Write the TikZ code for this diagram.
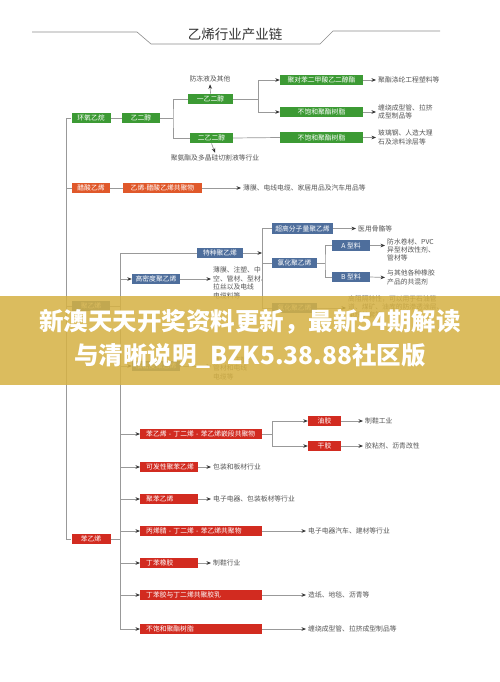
\documentclass[tikz,border=0pt]{standalone}
\usepackage{fontspec}
\newfontfamily\cjk{Noto Sans CJK SC}
\usetikzlibrary{arrows.meta}
\definecolor{cgreen}{HTML}{3C9A34}
\definecolor{corange}{HTML}{E0582A}
\definecolor{cblue}{HTML}{4E6E9C}
\definecolor{cred}{HTML}{D22B20}
\definecolor{ctext}{HTML}{555555}
\definecolor{cline}{HTML}{999999}
\definecolor{cband}{HTML}{D6B244}
\newcommand\labfont{\cjk\fontsize{6.8}{8.4}\selectfont}
\begin{document}
\begin{tikzpicture}[x=1pt,y=-1pt,
  box/.style={inner sep=0pt, minimum height=10.5pt, text=white, font=\labfont},
  gbox/.style={box, fill=cgreen, minimum width=#1},
  obox/.style={box, fill=corange, minimum width=#1},
  bbox/.style={box, fill=cblue, minimum width=#1},
  rbox/.style={box, fill=cred, anchor=west, inner xsep=6pt, text width=#1, align=left},
  txt/.style={font=\labfont, text=ctext, anchor=west, inner sep=2pt, align=left},
  ctxt/.style={font=\labfont, text=ctext, inner sep=2pt},
  ln/.style={draw=cline, line width=0.7pt},
  arr/.style={ln, -{Stealth[length=4.5pt,width=3.6pt,color=black!80]}},
  bandtext/.style={font=\cjk\bfseries\fontsize{24.5}{28}\selectfont, text=white}
]
\useasboundingbox (0,0) rectangle (500,682);
\fill[white] (0,0) rectangle (500,682);

% title
\node[font=\cjk\fontsize{13.5}{15}\selectfont, text=black!80] (title) at (235,34) {乙烯行业产业链};
\draw[draw=black!45, line width=0.6pt] (32,32) -- (137,32) -- (151,44) -- (320,44) -- (333,31) -- (440,31);

% ===== green section
\node[gbox=39pt] (eo) at (91,118) {环氧乙烷};
\node[gbox=38pt] (eg) at (141,118) {乙二醇};
\node[gbox=45pt] (meg) at (210.5,99) {一乙二醇};
\node[gbox=43pt] (deg) at (211.5,138) {二乙二醇};
\node[gbox=83pt] (pet) at (321.5,80) {聚对苯二甲酸乙二醇酯};
\node[gbox=83pt] (upra) at (321.5,112) {不饱和聚酯树脂};
\node[gbox=83pt] (uprb) at (321.5,137.5) {不饱和聚酯树脂};
\node[ctxt] (taf) at (210,79) {防冻液及其他};
\node[ctxt] (tpu) at (215,158) {聚氨酯及多晶硅切割液等行业};
\node[txt] (tpet) at (376,80) {聚酯涤纶工程塑料等};
\node[txt] (tupra) at (376,112) {缠绕成型管、拉挤\\成型制品等};
\node[txt] (tuprb) at (376,137.5) {玻璃钢、人造大理\\石及涂料涂层等};
\coordinate (gb1) at (173,118);
\coordinate (gb2) at (258,99);
\draw[ln] (eo) -- (eg);
\draw[ln] (eg.east) -- (gb1);
\draw[ln] (meg.west) -| (gb1) |- (deg.west);
\draw[arr] (meg.north) -- (taf.south);
\draw[arr] (deg.south) -- (tpu.north);
\draw[ln] (meg.east) -- (gb2);
\draw[arr] (gb2) |- (pet.west);
\draw[arr] (gb2) |- (upra.west);
\draw[ln] (deg.east) -- (uprb.west);
\draw[arr] (pet.east) -- (tpet.west);
\draw[arr] (upra.east) -- (tupra.west);
\draw[arr] (uprb.east) -- (tuprb.west);

% ===== orange section
\node[obox=38pt] (va) at (91,188) {醋酸乙烯};
\node[obox=79pt] (eva) at (162.5,188) {乙烯-醋酸乙烯共聚物};
\node[txt] (teva) at (241,188) {薄膜、电线电缆、家居用品及汽车用品等};
\draw[ln] (va) -- (eva);
\draw[arr] (eva.east) -- (teva.west);

% ===== blue section
\node[bbox=38pt] (pe) at (91,306) {聚乙烯};
\node[bbox=46pt] (spe) at (220,253) {特种聚乙烯};
\node[bbox=48pt] (hdpe) at (156,279) {高密度聚乙烯};
\node[bbox=48pt] (lpe) at (156,366) {低密度聚乙烯};
\node[bbox=61pt] (uhmw) at (302.5,228.5) {超高分子量聚乙烯};
\node[bbox=45pt] (cpe) at (294.5,263) {氯化聚乙烯};
\node[bbox=38pt] (pa) at (351,245.5) {A 型料};
\node[bbox=38pt] (pb) at (351,277) {B 型料};
\node[bbox=45pt] (csm) at (294.5,308) {氯化聚乙烯};
\node[txt] (thdpe) at (211,283) {薄膜、注塑、中\\空、管材、型材、\\拉丝以及电线\\电缆料等};
\node[txt] (tlpe) at (211,368) {薄膜、注塑、\\管材和电线\\电缆等};
\node[txt] (tuhmw) at (356,228.5) {医用骨骼等};
\node[txt] (tpa) at (385,250) {防水卷材、PVC\\异型材改性剂、\\管材等};
\node[txt] (tpb) at (385,277.5) {与其他各种橡胶\\产品的共混剂};
\node[txt] (tcsm) at (346,307) {高阻隔特性，可以用于石油管\\道、煤矿、油库的防渗透涂层、\\电缆护套等};
\coordinate (pbus) at (120,366);
\coordinate (sbus) at (262,308);
\coordinate (abus) at (325,263);
\draw[ln] (pe.east) -- (pe.east -| pbus);
\draw[ln] (spe.west) -| (pbus);
\draw[arr] (pbus |- hdpe) -- (hdpe.west);
\draw[arr] (pbus) -- (lpe.west);
\draw[arr] (spe.east) -- (spe.east -| sbus);
\draw[ln] (uhmw.west) -| (sbus) -- (csm.west);
\draw[ln] (cpe.west) -- (cpe.west -| sbus);
\draw[ln] (cpe.east) -- (abus);
\draw[ln] (pa.west) -| (abus) |- (pb.west);
\draw[arr] (hdpe.east) -- (hdpe.east -| thdpe.west);
\draw[arr] (lpe.east) -- (lpe.east -| tlpe.west);
\draw[arr] (uhmw.east) -- (tuhmw.west);
\draw[arr] (pa.east) -- (pa.east -| tpa.west);
\draw[arr] (pb.east) -- (tpb.west);
\draw[arr] (csm.east) -- (csm.east -| tcsm.west);

% ===== red section
\node[box, fill=cred, minimum width=39pt] (st) at (91,539) {苯乙烯};
\node[rbox=110pt] (sbs) at (140,434) {苯乙烯 - 丁二烯 - 苯乙烯嵌段共聚物};
\node[box, fill=cred, minimum width=33pt] (oil) at (324.5,421) {油胶};
\node[box, fill=cred, minimum width=33pt] (dry) at (324.5,446) {干胶};
\node[rbox=46pt] (eps) at (140,467) {可发性聚苯乙烯};
\node[rbox=46pt] (ps) at (140,499) {聚苯乙烯};
\node[rbox=110pt] (abs) at (140,531) {丙烯腈 - 丁二烯 - 苯乙烯共聚物};
\node[rbox=46pt] (sbr) at (140,563) {丁苯橡胶};
\node[rbox=110pt] (sbl) at (140,595) {丁苯胶与丁二烯共聚胶乳};
\node[rbox=110pt] (uprc) at (140,629) {不饱和聚酯树脂};
\node[txt] (toil) at (363,421) {制鞋工业};
\node[txt] (tdry) at (363,446) {胶粘剂、沥青改性};
\node[txt] (teps) at (211,467) {包装和板材行业};
\node[txt] (tps) at (211,499) {电子电器、包装板材等行业};
\node[txt] (tabs) at (306,531) {电子电器汽车、建材等行业};
\node[txt] (tsbr) at (211,563) {制鞋行业};
\node[txt] (tsbl) at (306,595) {造纸、地毯、沥青等};
\node[txt] (tuprc) at (306,629) {缠绕成型管、拉挤成型制品等};
\coordinate (rbus) at (120,629);
\coordinate (obus) at (272,434);
\draw[ln] (st.east) -- (st.east -| rbus);
\draw[ln] (pbus) -- (pbus |- sbs);
\draw[arr] (rbus) |- (sbs.west);
\draw[arr] (rbus |- eps) -- (eps.west);
\draw[arr] (rbus |- ps) -- (ps.west);
\draw[arr] (rbus |- abs) -- (abs.west);
\draw[arr] (rbus |- sbr) -- (sbr.west);
\draw[arr] (rbus |- sbl) -- (sbl.west);
\draw[arr] (rbus) -- (uprc.west);
\draw[ln] (sbs.east) -- (obus);
\draw[arr] (obus) |- (oil.west);
\draw[arr] (obus) |- (dry.west);
\draw[arr] (oil.east) -- (toil.west);
\draw[arr] (dry.east) -- (tdry.west);
\draw[arr] (eps.east) -- (teps.west);
\draw[arr] (ps.east) -- (tps.west);
\draw[arr] (abs.east) -- (tabs.west);
\draw[arr] (sbr.east) -- (tsbr.west);
\draw[arr] (sbl.east) -- (tsbl.west);
\draw[arr] (uprc.east) -- (tuprc.west);

% ===== main trunk
\coordinate (trunk) at (66,539);
\draw[ln] (eo.west) -| (trunk) -- (st.west);
\draw[ln] (va.west) -- (va.west -| trunk);
\draw[ln] (pe.west) -- (pe.west -| trunk);

% ===== overlay band
\fill[cband, fill opacity=0.86] (0,296) rectangle (500,385);
\node[bandtext] (bandone) at (250,322) {新澳天天开奖资料更新，最新54期解读};
\node[bandtext] (bandtwo) at (250,356) {与清晰说明\_BZK5.38.88社区版};
\end{tikzpicture}
\end{document}
